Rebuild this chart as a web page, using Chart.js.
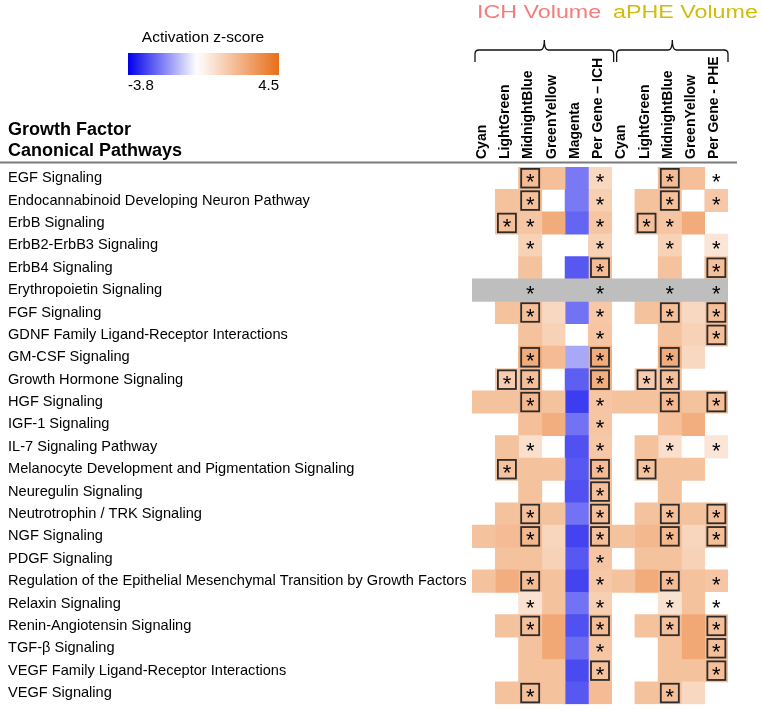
<!DOCTYPE html>
<html>
<head>
<meta charset="utf-8">
<script src="https://cdn.jsdelivr.net/npm/chart.js@4.4.1/dist/chart.umd.min.js"></script>
<style>
  html, body { margin: 0; padding: 0; background: #fff; }
</style>
</head>
<body>
<canvas id="heat" width="762" height="713"></canvas>
<script>
// pathways (rows, top to bottom)
const pathways = [
  'EGF Signaling',
  'Endocannabinoid Developing Neuron Pathway',
  'ErbB Signaling',
  'ErbB2-ErbB3 Signaling',
  'ErbB4 Signaling',
  'Erythropoietin Signaling',
  'FGF Signaling',
  'GDNF Family Ligand-Receptor Interactions',
  'GM-CSF Signaling',
  'Growth Hormone Signaling',
  'HGF Signaling',
  'IGF-1 Signaling',
  'IL-7 Signaling Pathway',
  'Melanocyte Development and Pigmentation Signaling',
  'Neuregulin Signaling',
  'Neutrotrophin / TRK Signaling',
  'NGF Signaling',
  'PDGF Signaling',
  'Regulation of the Epithelial Mesenchymal Transition by Growth Factors',
  'Relaxin Signaling',
  'Renin-Angiotensin Signaling',
  'TGF-\u03B2 Signaling',
  'VEGF Family Ligand-Receptor Interactions',
  'VEGF Signaling'
];

// columns (left to right)
const columns = ['Cyan', 'LightGreen', 'MidnightBlue', 'GreenYellow', 'Magenta', 'Per Gene \u2013 ICH',
                 'Cyan', 'LightGreen', 'MidnightBlue', 'GreenYellow', 'Per Gene - PHE'];

// row with no z-score (gray)
const noScoreRow = 'Erythropoietin Signaling';

// activation z-scores per column, null = blank
const N = null;
const cyanIch         = [N,N,N,N,N,N,N,N,N,N,1.9,N,N,N,N,N,1.9,N,1.9,N,N,N,N,N];
const lightGreenIch   = [N,1.9,2.0,N,N,N,1.9,N,N,1.6,1.9,N,1.9,1.9,N,1.9,2.1,1.9,2.5,N,1.9,N,N,1.9];
const midnightBlueIch = [2.1,2.0,1.8,1.4,1.9,N,2.0,1.9,2.6,2.0,2.2,2.0,1.0,1.9,1.9,2.0,2.2,1.9,2.1,0.9,2.0,1.9,1.9,2.0];
const greenYellowIch  = [2.0,N,2.6,N,N,N,1.2,1.4,2.1,N,1.9,2.5,N,1.9,N,1.9,1.3,1.4,1.9,1.9,2.7,2.7,1.9,1.9];
const magentaIch      = [-2.0,-2.0,-2.3,N,-2.5,N,-2.1,N,-1.3,-2.4,-2.9,-2.1,-2.6,-2.5,-2.6,-2.1,-2.8,-2.5,-2.8,-2.1,-2.6,-2.2,-2.7,-2.5];
const perGeneIch      = [1.2,1.5,1.8,1.4,2.1,N,1.7,1.8,2.6,2.5,1.8,1.8,1.7,2.1,2.0,2.0,2.0,1.8,1.7,1.5,2.1,1.8,1.9,2.1];
const cyanPhe         = [N,N,N,N,N,N,N,N,N,N,1.9,N,N,N,N,N,1.9,N,1.9,N,N,N,N,N];
const lightGreenPhe   = [N,1.9,2.0,N,N,N,1.9,N,N,1.6,1.9,N,1.9,1.9,N,1.9,2.2,1.9,2.6,N,1.9,N,N,1.9];
const midnightBluePhe = [2.1,2.0,1.8,1.4,1.9,N,2.0,1.9,2.6,2.0,2.2,2.0,1.0,1.9,1.9,2.0,2.2,1.9,2.1,0.9,2.0,1.9,1.9,2.0];
const greenYellowPhe  = [2.0,N,2.6,N,N,N,1.2,1.4,1.2,N,1.9,2.5,N,1.9,N,1.9,1.3,1.4,1.9,1.9,2.7,2.7,1.9,1.2];
const perGenePhe      = [0,1.7,N,0.8,2.0,N,2.0,2.0,N,N,2.0,N,0.8,N,N,2.0,2.0,N,1.8,0,2.0,2.0,2.0,N];

// significance per column: b = boxed star, s = star, . = none
const sigCyanIch         = '........................';
const sigLightGreenIch   = '..b......b...b..........';
const sigMidnightBlueIch = 'bbss.sb.bbb.s..bb.bsb..b';
const sigGreenYellowIch  = '........................';
const sigMagentaIch      = '........................';
const sigPerGeneIch      = 'ssssbsssbbsssbbbbsssbsb.';
const sigCyanPhe         = '........................';
const sigLightGreenPhe   = '..b......b...b..........';
const sigMidnightBluePhe = 'bbss.sb.bbb.s..bb.bsb..b';
const sigGreenYellowPhe  = '........................';
const sigPerGenePhe      = 'ss.sbsbb..b.s..bb.ssbbb.';

const zMin = -3.8, zMax = 4.5;

const colValues = [cyanIch, lightGreenIch, midnightBlueIch, greenYellowIch, magentaIch, perGeneIch,
                   cyanPhe, lightGreenPhe, midnightBluePhe, greenYellowPhe, perGenePhe];
const colSig = [sigCyanIch, sigLightGreenIch, sigMidnightBlueIch, sigGreenYellowIch, sigMagentaIch, sigPerGeneIch,
                sigCyanPhe, sigLightGreenPhe, sigMidnightBluePhe, sigGreenYellowPhe, sigPerGenePhe];

// white in the middle, blue below, orange above
function zColor(z) {
  let t, c;
  if (z >= 0) { t = Math.min(z / zMax, 1); c = [232, 110, 25]; }
  else { t = Math.min(-z / -zMin, 1); c = [0, 0, 235]; }
  const r = Math.round(255 + (c[0] - 255) * t);
  const g = Math.round(255 + (c[1] - 255) * t);
  const b = Math.round(255 + (c[2] - 255) * t);
  return 'rgb(' + r + ',' + g + ',' + b + ')';
}

const grayIndex = pathways.indexOf(noScoreRow);
const datasets = [{
  data: pathways.map((p, i) => i === grayIndex ? [0, columns.length] : null),
  backgroundColor: '#bebebe'
}];
colValues.forEach((vals, c) => {
  datasets.push({
    data: vals.map(v => v === null ? null : [c, c + 1]),
    backgroundColor: ctx => zColor(vals[ctx.dataIndex] || 0)
  });
});
datasets.forEach(d => {
  d.barPercentage = 1;
  d.categoryPercentage = 1;
  d.borderWidth = 0;
  d.grouped = false;
});

function drawBrace(ctx, x1, x2, yTop, yBot, tipY) {
  const xm = (x1 + x2) / 2, r = 4;
  ctx.beginPath();
  ctx.moveTo(x1, yBot);
  ctx.lineTo(x1, yTop + r);
  ctx.quadraticCurveTo(x1, yTop, x1 + r, yTop);
  ctx.lineTo(xm - r, yTop);
  ctx.quadraticCurveTo(xm, yTop, xm, tipY);
  ctx.quadraticCurveTo(xm, yTop, xm + r, yTop);
  ctx.lineTo(x2 - r, yTop);
  ctx.quadraticCurveTo(x2, yTop, x2, yTop + r);
  ctx.lineTo(x2, yBot);
  ctx.stroke();
}

// wide (stretched) title text
function wideText(ctx, text, x, y, sx) {
  ctx.save();
  ctx.translate(x, y);
  ctx.scale(sx, 1);
  ctx.fillText(text, 0, 0);
  ctx.restore();
}

const fontFamily = '"Liberation Sans", Arial, Helvetica, sans-serif';

const overlay = {
  id: 'overlay',
  afterDatasetsDraw(chart) {
    const ctx = chart.ctx, xs = chart.scales.x, ys = chart.scales.y;
    ctx.save();
    ctx.font = '22px ' + fontFamily;
    const m = ctx.measureText('*');
    const starMid = (m.actualBoundingBoxAscent - m.actualBoundingBoxDescent) / 2;
    ctx.textAlign = 'center';
    ctx.textBaseline = 'alphabetic';
    colSig.forEach((sig, c) => {
      for (let i = 0; i < sig.length; i++) {
        if (sig[i] === '.') continue;
        const cx = xs.getPixelForValue(c + 0.5);
        const cy = ys.getPixelForValue(i);
        if (sig[i] === 'b') {
          ctx.strokeStyle = '#2b2b2b';
          ctx.lineWidth = 1.8;
          ctx.strokeRect(cx - 9, cy - 9.3, 18, 18.6);
        }
        ctx.fillStyle = '#000';
        ctx.fillText('*', cx, cy + starMid);
      }
    });
    ctx.restore();
  },
  afterDraw(chart) {
    const ctx = chart.ctx, xs = chart.scales.x;
    ctx.save();
    // separator line
    ctx.strokeStyle = '#7a7a7a';
    ctx.lineWidth = 2;
    ctx.beginPath();
    ctx.moveTo(0, 162.5);
    ctx.lineTo(737, 162.5);
    ctx.stroke();

    // panel title
    ctx.fillStyle = '#000';
    ctx.textAlign = 'left';
    ctx.textBaseline = 'alphabetic';
    ctx.font = 'bold 18px ' + fontFamily;
    ctx.fillText('Growth Factor', 8, 135);
    ctx.fillText('Canonical Pathways', 8, 156);

    // colour legend
    const lx = 128, lw = 151, ly = 53, lh = 22;
    const grad = ctx.createLinearGradient(lx, 0, lx + lw, 0);
    for (let k = 0; k <= 20; k++) {
      const z = zMin + (zMax - zMin) * k / 20;
      grad.addColorStop(k / 20, zColor(z));
    }
    ctx.fillStyle = grad;
    ctx.fillRect(lx, ly, lw, lh);
    ctx.fillStyle = '#000';
    ctx.font = '15.5px ' + fontFamily;
    ctx.textAlign = 'center';
    ctx.fillText('Activation z-score', 203, 42);
    ctx.font = '15px ' + fontFamily;
    ctx.textAlign = 'left';
    ctx.fillText(String(zMin), lx, 90);
    ctx.textAlign = 'right';
    ctx.fillText(String(zMax), lx + lw, 90);

    // group titles
    ctx.textAlign = 'left';
    ctx.font = '17.5px ' + fontFamily;
    ctx.fillStyle = '#f77b7b';
    wideText(ctx, 'ICH Volume', 477, 17.5, 1.33);
    ctx.fillStyle = '#d0bc0c';
    wideText(ctx, 'aPHE Volume', 613, 17.5, 1.33);

    // braces
    ctx.strokeStyle = '#111';
    ctx.lineWidth = 1.3;
    drawBrace(ctx, xs.getPixelForValue(0) + 3, xs.getPixelForValue(6) + 2, 50, 62, 40);
    drawBrace(ctx, xs.getPixelForValue(6) + 5, xs.getPixelForValue(11), 50, 62, 40);
    ctx.restore();
  }
};

Chart.defaults.font.family = fontFamily;
Chart.defaults.color = '#000';

new Chart(document.getElementById('heat'), {
  type: 'bar',
  data: { labels: pathways, datasets: datasets },
  options: {
    indexAxis: 'y',
    responsive: false,
    animation: false,
    events: [],
    layout: { padding: { left: 8, right: 34, top: 0, bottom: 3 } },
    scales: {
      x: { type: 'linear', min: 0, max: columns.length, display: false },
      cols: {
        type: 'category',
        labels: columns,
        position: 'top',
        offset: true,
        grid: { display: false, drawTicks: false },
        border: { display: false },
        ticks: {
          autoSkip: false,
          minRotation: 90,
          maxRotation: 90,
          padding: 8,
          labelOffset: 15,
          color: '#000',
          font: { size: 14, weight: 'bold' }
        },
        afterFit(scale) { scale.height = 167; }
      },
      y: {
        type: 'category',
        offset: true,
        grid: { display: false, drawTicks: false },
        border: { display: false },
        ticks: { autoSkip: false, crossAlign: 'far', padding: 0, color: '#000', font: { size: 14.6 } },
        afterFit(scale) { scale.width = 464; }
      }
    },
    plugins: { legend: { display: false }, tooltip: { enabled: false } }
  },
  plugins: [overlay]
});
</script>
</body>
</html>
